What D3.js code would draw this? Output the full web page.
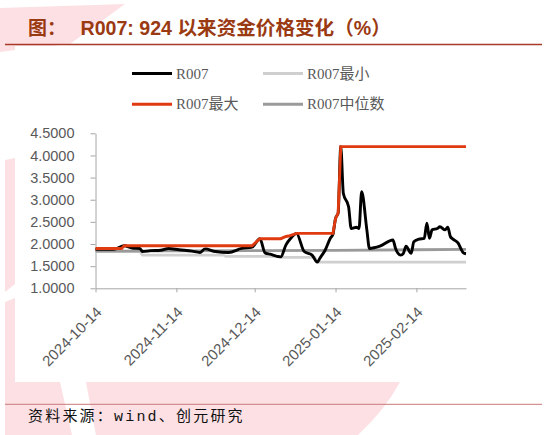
<!DOCTYPE html>
<html><head><meta charset="utf-8">
<script src="https://cdn.jsdelivr.net/npm/d3@7"></script>
<style>body{margin:0;background:#fff;}svg{display:block;}</style>
</head><body>
<svg id="c" width="546" height="435"></svg>
<script>
// ---- data ----
const r007Dates = ["2024-10-14","2024-10-21","2024-10-25","2024-10-28","2024-10-31","2024-11-01","2024-11-04","2024-11-08","2024-11-11","2024-11-15","2024-11-20","2024-11-23","2024-11-25","2024-11-29","2024-12-04","2024-12-09","2024-12-13","2024-12-16","2024-12-18","2024-12-20","2024-12-24","2024-12-26","2024-12-28","2024-12-30","2025-01-02","2025-01-05","2025-01-07","2025-01-08","2025-01-10","2025-01-12","2025-01-13","2025-01-14","2025-01-15","2025-01-16","2025-01-17","2025-01-19","2025-01-20","2025-01-22","2025-01-23","2025-01-24","2025-01-26","2025-01-27","2025-01-31","2025-02-05","2025-02-06","2025-02-08","2025-02-09","2025-02-10","2025-02-12","2025-02-13","2025-02-15","2025-02-17","2025-02-18","2025-02-19","2025-02-20","2025-02-22","2025-02-23","2025-02-25","2025-02-26","2025-02-27","2025-02-28","2025-03-02","2025-03-03","2025-03-04","2025-03-05"];
const r007Values = [1.88,1.88,1.96,1.91,1.90,1.83,1.85,1.86,1.90,1.87,1.84,1.81,1.89,1.83,1.81,1.90,1.93,2.12,1.80,1.77,1.71,1.98,2.14,2.24,1.83,1.75,1.59,1.68,1.86,2.13,2.22,2.58,2.70,4.20,3.14,2.84,2.35,2.38,2.35,3.18,2.32,1.90,1.95,2.09,1.90,1.75,1.79,1.95,1.79,2.05,2.11,2.13,2.47,2.13,2.32,2.35,2.39,2.32,2.38,2.17,2.11,2.02,1.90,1.80,1.78];

const maxDates = ["2024-10-14","2024-10-24","2024-10-25","2024-12-13","2024-12-16","2024-12-24","2024-12-26","2024-12-27","2024-12-30","2025-01-13","2025-01-14","2025-01-15","2025-01-16","2025-03-05"];
const maxValues = [1.90,1.90,1.96,1.96,2.12,2.12,2.17,2.18,2.24,2.24,2.58,2.70,4.20,4.20];

const minDates = ["2024-10-14","2024-10-31","2024-11-01","2024-12-02","2024-12-03","2024-12-23","2024-12-24","2025-01-06","2025-01-07","2025-03-05"];
const minValues = [1.83,1.83,1.75,1.75,1.72,1.72,1.70,1.70,1.59,1.59];

const medDates = ["2024-10-14","2024-11-14","2024-12-14","2025-01-14","2025-02-14","2025-03-05"];
const medValues = [1.84,1.845,1.85,1.855,1.87,1.88];

const xTickLabels = ["2024-10-14","2024-11-14","2024-12-14","2025-01-14","2025-02-14"];
const yTickValues = [1.0,1.5,2.0,2.5,3.0,3.5,4.0,4.5];

const legendNames = ["R007","R007最小","R007最大","R007中位数"];
const titleText = "R007: 924 以来资金价格变化（%）";
const sourceText = "资料来源：wind、创元研究";

// ---- drawing ----
const svg = d3.select("#c");
const parse = d3.timeParse("%Y-%m-%d");
const pink = "#fde0e4";

// watermark background shapes
const wm = svg.append("g");
wm.append("path").attr("d","M0,8 L125,4 L70,44 L15,50 L0,52 Z").attr("fill",pink);
wm.append("path").attr("d","M5,160 L15,158 L15,284 L5,292 Z").attr("fill",pink);
wm.append("path").attr("d","M5,302 L15,298 L15,382 L60,382 L72,435 L5,435 Z").attr("fill",pink);
wm.append("path").attr("d","M86,382 L400,382 Q385,410 358,435 L96,435 Z").attr("fill",pink);

// white chart panel
svg.append("rect").attr("x",15).attr("y",46).attr("width",531).attr("height",336).attr("fill","#fff");

// title
svg.append("text").attr("x",28).attr("y",35).attr("fill","#9a3a12")
  .attr("font-family","'Noto Sans CJK SC'").attr("font-weight","bold").attr("font-size",19).text("图：");
svg.append("text").attr("x",80.5).attr("y",35).attr("fill","#9a3a12")
  .attr("font-family","'Liberation Sans','Noto Sans CJK SC'").attr("font-weight","bold").attr("font-size",19.6).text(titleText);
svg.append("line").attr("x1",5).attr("x2",542).attr("y1",44.5).attr("y2",44.5).attr("stroke","#a83a2a").attr("stroke-width",1.5);

// scales
const x = d3.scaleTime().domain([parse("2024-10-14"), parse("2025-03-05")]).range([95.5, 466]);
const y = d3.scaleLinear().domain([1, 4.5]).range([288.3, 133.3]);

const axisColor = "#a6a6a6";
const xAxis = svg.append("g").attr("transform","translate(0,288.3)")
  .call(d3.axisBottom(x).tickValues(xTickLabels.map(parse)).tickFormat(d3.timeFormat("%Y-%m-%d")).tickSize(4).tickSizeOuter(0));
xAxis.select(".domain").attr("stroke",axisColor);
xAxis.selectAll(".tick line").attr("stroke",axisColor);
xAxis.selectAll(".tick text").attr("font-family","'Liberation Sans'").attr("font-size",15).attr("fill","#595959")
  .attr("text-anchor","end").attr("transform","translate(3,21) rotate(-45)").attr("dy","0.35em").attr("y",0);

const yAxis = svg.append("g").attr("transform","translate(95.5,0)")
  .call(d3.axisLeft(y).tickValues(yTickValues).tickFormat(d3.format(".4f")).tickSize(5).tickSizeOuter(0).tickPadding(16));
yAxis.select(".domain").attr("stroke",axisColor);
yAxis.selectAll(".tick line").attr("stroke",axisColor);
yAxis.selectAll(".tick text").attr("font-family","'Liberation Sans'").attr("font-size",14.5).attr("fill","#595959");

// series
function pts(ds, vs){ return ds.map((d,i)=>({d:parse(d), v:vs[i]})); }
const lineLin = d3.line().x(p=>x(p.d)).y(p=>y(p.v));
const lineSm = d3.line().x(p=>x(p.d)).y(p=>y(p.v)).curve(d3.curveMonotoneX);

const colMin = "#cfcfcf", colMed = "#9a9a9a", colMax = "#e03a10", colR = "#000000";
svg.append("path").attr("d",lineLin(pts(minDates,minValues))).attr("fill","none").attr("stroke",colMin).attr("stroke-width",2.8);
svg.append("path").attr("d",lineLin(pts(medDates,medValues))).attr("fill","none").attr("stroke",colMed).attr("stroke-width",2.8);
svg.append("path").attr("d",lineSm(pts(r007Dates,r007Values))).attr("fill","none").attr("stroke",colR).attr("stroke-width",2.9).attr("stroke-linejoin","round");
svg.append("path").attr("d",lineLin(pts(maxDates,maxValues))).attr("fill","none").attr("stroke",colMax).attr("stroke-width",2.9);

// legend
const legCols = [colR, colMin, colMax, colMed];
const legPos = [[132,73.5],[263,73.5],[132,104.3],[263,104.3]];
legendNames.forEach((n,i)=>{
  const [lx,ly] = legPos[i];
  svg.append("line").attr("x1",lx).attr("x2",lx+40).attr("y1",ly).attr("y2",ly).attr("stroke",legCols[i]).attr("stroke-width",3);
  svg.append("text").attr("x",lx+44).attr("y",ly+5).attr("font-family","'Liberation Serif','Noto Sans CJK SC'")
    .attr("font-size",15).attr("fill","#595959").text(n);
});

// source
svg.append("line").attr("x1",5).attr("x2",542).attr("y1",404.3).attr("y2",404.3).attr("stroke","#c87a78").attr("stroke-width",1);
svg.append("text").attr("x",28).attr("y",421).attr("font-family","'Liberation Mono','Noto Sans CJK SC'")
  .attr("font-size",15).attr("letter-spacing",2.2).attr("fill","#111").text(sourceText);
</script>
</body></html>
